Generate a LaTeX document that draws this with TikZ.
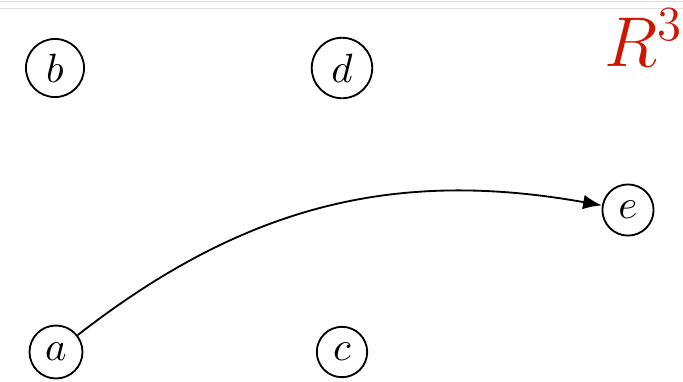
\documentclass[tikz,border=0pt]{standalone}
\usepackage{amsmath,amssymb}
\usetikzlibrary{arrows.meta}
\definecolor{setred}{RGB}{204,22,0}
\tikzset{
  graphpic/.style={x=0.245pt, y=-0.245pt},
  vnode/.style={circle, draw, line width=0.45pt, inner sep=2.2pt},
  darc/.style={line width=0.45pt, -{Latex[length=4.6pt,width=3.6pt]}},
  rlabel/.style={font=\LARGE, text=setred, inner sep=0pt},
  edgeline/.style={draw=black!13, line width=0.35pt},
}
\begin{document}
\begin{tikzpicture}[graphpic]
  \useasboundingbox (0,0) rectangle (683,382);
  % page edge lines at the top
  \draw[edgeline] (0,1.5) -- (683,1.5);
  \draw[edgeline] (0,8.5) -- (683,8.5);
  % vertices
  \node[vnode] (b) at (55,68) {$b$};
  \node[vnode] (d) at (342,68) {$d$};
  \node[vnode] (e) at (628,210) {$e$};
  \node[vnode] (a) at (56,352) {$a$};
  \node[vnode] (c) at (342,352) {$c$};
  % the one arc
  \draw[darc] (a) to[bend left=24] (e);
  \node[rlabel, anchor=base east] (rr) at (684,66) {$R^3$};
\end{tikzpicture}
\end{document}
